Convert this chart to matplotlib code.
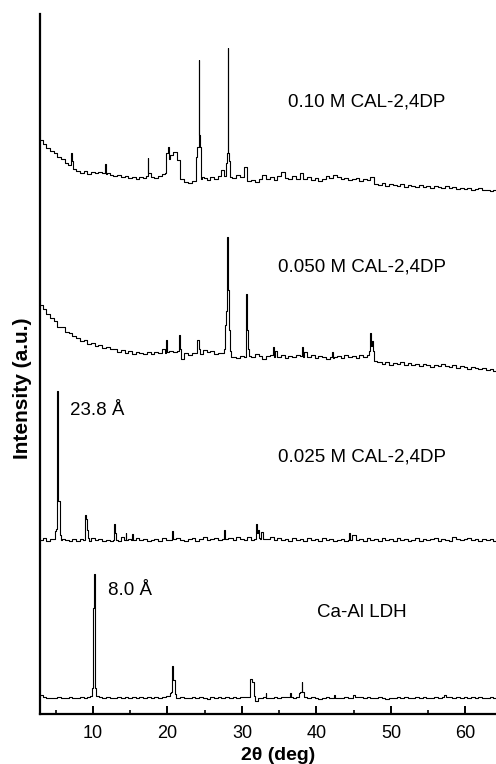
import numpy as np
import matplotlib
matplotlib.use('Agg')
import matplotlib.pyplot as plt

plt.rcParams['font.family'] = ['Liberation Sans', 'DejaVu Sans']

# scan grid for the background, 2theta in deg
two_theta = np.arange(3.0, 64.01, 0.5)

# background intensity above each pattern's own baseline (a.u.), one value per grid point
ldh_bg = [3, 1, 0, 0, 0, 1, 0, 0, 1, 0,
          0, 1, 0, 1, 1, 0, 1, 0, 1, 0,
          0, 1, 0, 1, 0, 1, 0, 1, 0, 1,
          0, 1, 0, 1, 2, 1, 0, 0, 1, 0,
          0, 1, 0, 1, 0, -1, 1, 0, 1, 0,
          1, 0, 1, 0, 1, 1, 0, 1, -1, 0,
          1, -1, 0, 1, 0, 1, 1, 0, 0, 1,
          1, 0, 0, 1, 0, -1, 0, 1, 0, 1,
          0, 0, 1, 0, 0, 1, 1, 0, 1, 0,
          0, 1, 0, -1, 0, 0, 1, 0, 1, 0,
          0, 1, 0, 1, 0, 0, 1, 0, 1, 1,
          1, 0, 1, 0, 1, 0, 1, 0, 1, 0,
          0, 1, 0]

c025_bg = [1, 3, 0, 2, 1, 0, 2, 1, 0, 2,
           0, 2, 1, 0, 3, 1, 2, 0, 1, 0,
           2, 0, 4, 1, 2, 0, 3, 1, 2, 0,
           1, 2, 0, 3, 1, 5, 2, 3, 1, 0,
           2, 3, 0, 2, 4, 1, 2, 3, 1, 5,
           2, 3, 1, 4, 2, 1, 4, 1, 3, 2,
           5, 2, 4, 1, 3, 1, 2, 0, 3, 1,
           2, 0, 3, 1, 2, 0, 3, 1, 2, 0,
           1, 2, 0, 3, 6, 1, 2, 0, 3, 1,
           2, 0, 3, 1, 2, 0, 3, 1, 2, 0,
           1, 3, 0, 2, 1, 2, 3, 0, 2, 1,
           0, 4, 2, 1, 2, 3, 1, 2, 0, 2,
           1, 2, 0]

c050_bg = [66, 62, 57, 53, 50, 44, 44, 39, 38, 35,
           33, 30, 31, 27, 28, 25, 26, 23, 24, 22,
           22, 19, 21, 18, 20, 17, 19, 18, 17, 19,
           17, 19, 18, 22, 18, 20, 19, 21, 12, 18,
           16, 18, 20, 17, 21, 19, 20, 17, 18, 19,
           18, 16, 14, 13, 15, 14, 15, 14, 17, 15,
           12, 15, 13, 20, 14, 16, 13, 15, 14, 16,
           15, 19, 14, 16, 13, 15, 14, 12, 18, 14,
           15, 13, 16, 14, 15, 13, 16, 14, 18, 16,
           8, 9, 7, 9, 6, 8, 7, 9, 6, 8,
           6, 7, 5, 7, 6, 4, 6, 5, 7, 5,
           4, 6, 3, 5, 4, 2, 4, 3, 2, 3,
           1, 2, 0]

c010_bg = [51, 47, 43, 40, 38, 34, 32, 28, 27, 21,
           20, 18, 20, 17, 19, 18, 19, 17, 18, 16,
           15, 16, 14, 15, 13, 14, 12, 14, 13, 19,
           14, 13, 15, 17, 25, 36, 39, 31, 12, 9,
           8, 10, 9, 12, 13, 11, 14, 12, 15, 21,
           20, 15, 13, 16, 14, 24, 10, 11, 9, 12,
           16, 12, 14, 11, 15, 19, 13, 12, 15, 12,
           18, 12, 14, 11, 13, 10, 12, 15, 13, 16,
           14, 12, 13, 11, 12, 13, 10, 12, 11, 14,
           7, 6, 8, 5, 7, 6, 5, 7, 4, 6,
           5, 4, 6, 4, 5, 3, 5, 4, 3, 5,
           3, 4, 2, 3, 2, 3, 1, 2, 3, 1,
           1, 0, 1]

# reflections: (2theta, intensity above baseline)
ldh_peaks = [(9.75, 2), (9.9, 10), (10.05, 14), (10.1, 90), (10.3, 124), (10.4, 10), (10.55, 2),
             (20.3, 2), (20.45, 5), (20.6, 6), (20.7, 32), (20.9, 18), (21.1, 4), (21.3, 0),
             (31.1, 1), (31.2, 19), (31.55, 16), (31.7, 2), (31.85, -3),
             (33.15, 1), (33.25, 5), (33.35, 0),
             (36.4, 1), (36.5, 5), (36.7, 1),
             (37.6, 1), (37.75, 5), (37.95, 6), (38.05, 16), (38.2, 6), (38.4, 1),
             (42.3, 0), (42.4, 3), (42.6, 0),
             (44.9, 0), (45.05, 3), (45.2, 1),
             (57.1, 1), (57.25, 3), (57.4, 1)]

c025_peaks = [(4.8, 2), (5.0, 10), (5.15, 12), (5.25, 150), (5.45, 40), (5.6, 6), (5.75, 1),
              (8.85, 1), (9.0, 26), (9.1, 22), (9.3, 11), (9.45, 3), (9.6, 0),
              (12.8, 1), (12.9, 17), (13.0, 8), (13.15, 1),
              (14.35, 1), (14.45, 8), (14.55, 1),
              (15.25, 1), (15.35, 7), (15.45, 1),
              (20.6, 1), (20.7, 10), (20.8, 2),
              (27.6, 2), (27.7, 11), (27.8, 2),
              (31.75, 2), (31.9, 17), (32.05, 8), (32.2, 11), (32.35, 3), (32.55, 2), (32.7, 9), (32.85, 2),
              (44.35, 1), (44.45, 8), (44.55, 1)]

c050_peaks = [(19.8, 18), (19.9, 31), (20.05, 19),
              (21.5, 20), (21.6, 36), (21.7, 22),
              (23.95, 18), (24.1, 31), (24.25, 22),
              (27.6, 18), (27.7, 22), (27.75, 46), (28.0, 60), (28.05, 134), (28.15, 81), (28.4, 41),
              (28.45, 20), (28.6, 14),
              (30.5, 14), (30.65, 77), (30.75, 41), (30.85, 22), (31.0, 15),
              (34.1, 16), (34.2, 24), (34.3, 14),
              (38.0, 15), (38.1, 24), (38.2, 14),
              (42.1, 14), (42.2, 19), (42.3, 13),
              (47.0, 16), (47.15, 20), (47.25, 38), (47.4, 25), (47.55, 30), (47.7, 20), (47.85, 10)]

c010_peaks = [(6.95, 26), (7.05, 38), (7.25, 30), (7.35, 22),
              (11.55, 18), (11.65, 27), (11.75, 17),
              (17.3, 15), (17.4, 33), (17.5, 18),
              (19.8, 18), (19.95, 38), (20.1, 44), (20.25, 32),
              (23.85, 10), (23.9, 34), (24.15, 44), (24.2, 131), (24.25, 56), (24.45, 44), (24.5, 12),
              (24.7, 14),
              (27.8, 15), (27.85, 28), (28.05, 38), (28.1, 143), (28.15, 38), (28.35, 30), (28.45, 14)]

labels = ['Ca-Al LDH', '0.025 M CAL-2,4DP', '0.050 M CAL-2,4DP', '0.10 M CAL-2,4DP']
offsets = [16, 173, 343, 523]


def pattern(bg, peaks):
    px = np.array([p[0] for p in peaks])
    py = np.array([p[1] for p in peaks])
    keep = np.array([np.min(np.abs(px - t)) > 0.2 for t in two_theta])
    x = np.concatenate([two_theta[keep], px])
    y = np.concatenate([np.array(bg, dtype=float)[keep], py])
    order = np.argsort(x)
    return x[order], y[order]


fig = plt.figure(figsize=(4.96, 7.64), dpi=100)
ax = fig.add_axes([0.0806, 0.0654, 0.9194, 0.9163])

for bg, pk, off in zip([ldh_bg, c025_bg, c050_bg, c010_bg],
                       [ldh_peaks, c025_peaks, c050_peaks, c010_peaks], offsets):
    x, y = pattern(bg, pk)
    ax.plot(x, y + off, color='black', lw=0.8, drawstyle='steps-mid')

ax.set_xlim(2.9, 64.1)
ax.set_ylim(0, 700)

ax.text(40.1, 102, labels[0], fontsize=13.5, va='center')
ax.text(34.8, 257, labels[1], fontsize=13.5, va='center')
ax.text(34.8, 447, labels[2], fontsize=13.5, va='center')
ax.text(36.2, 612, labels[3], fontsize=13.5, va='center')
ax.text(12.0, 124, '8.0 Å', fontsize=13.5, va='center')
ax.text(6.9, 304, '23.8 Å', fontsize=13.5, va='center')

ax.spines['top'].set_visible(False)
ax.spines['right'].set_visible(False)
ax.spines['left'].set_linewidth(1.6)
ax.spines['bottom'].set_linewidth(1.6)
ax.set_yticks([])
ax.set_xticks([10, 20, 30, 40, 50, 60])
ax.set_xticks([5, 15, 25, 35, 45, 55], minor=True)
ax.tick_params(axis='x', which='major', direction='in', length=6, width=1.4, labelsize=13, pad=8)
ax.tick_params(axis='x', which='minor', direction='in', length=3, width=1.2)

fig.text(278 / 496, 1 - 755 / 764, '2θ (deg)', fontsize=14, fontweight='bold', ha='center', va='center')
fig.text(23 / 496, 1 - 388 / 764, 'Intensity (a.u.)', fontsize=15, fontweight='bold',
         rotation=90, ha='center', va='center')

fig.savefig('out.png', dpi=100)
